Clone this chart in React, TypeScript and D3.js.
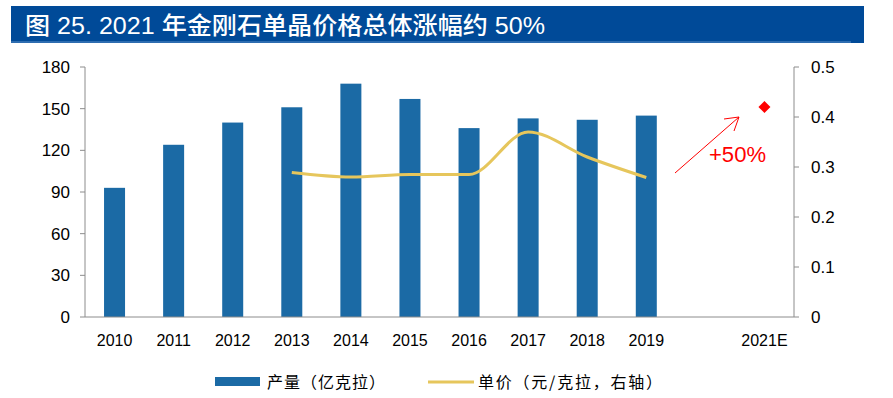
import React from "react";
import * as d3 from "d3";

const categories = ["2010", "2011", "2012", "2013", "2014", "2015", "2016", "2017", "2018", "2019", "2020", "2021E"];
const xLabels = ["2010", "2011", "2012", "2013", "2014", "2015", "2016", "2017", "2018", "2019", "", "2021E"];
const outputYears = ["2010", "2011", "2012", "2013", "2014", "2015", "2016", "2017", "2018", "2019"];
const outputValues = [93, 124, 140, 151, 168, 157, 136, 143, 142, 145];
const priceYears = ["2013", "2014", "2015", "2016", "2017", "2018", "2019"];
const priceValues = [0.289, 0.28, 0.285, 0.285, 0.37, 0.32, 0.279];
const forecastYear = "2021E";
const forecastPrice = 0.42;
const leftTicks = [0, 30, 60, 90, 120, 150, 180];
const rightTicks = [0, 0.1, 0.2, 0.3, 0.4, 0.5];

const W = 893, H = 398;
const plot = { left: 85, right: 794, top: 67, bottom: 317 };

export default function App() {
  const x = d3.scaleBand().domain(categories).range([plot.left, plot.right]).paddingInner(0.64).paddingOuter(0.32);
  const yL = d3.scaleLinear().domain([0, 180]).range([plot.bottom, plot.top]);
  const yR = d3.scaleLinear().domain([0, 0.5]).range([plot.bottom, plot.top]);
  const cx = (c: string) => (x(c) as number) + x.bandwidth() / 2;
  const line = d3.line<number>()
    .x((_, i) => cx(priceYears[i]))
    .y((d) => yR(d))
    .curve(d3.curveMonotoneX);
  const bw = 21;
  const fx = cx(forecastYear);
  const fy = yR(forecastPrice);
  const axisColor = "#8c8c8c";
  const numFont = "'Liberation Sans', Arial, sans-serif";
  const cjk = "'Noto Sans CJK SC', sans-serif";
  return (
    <svg width={W} height={H} style={{ position: "absolute", left: 0, top: 0 }}>
      <rect x={0} y={0} width={W} height={H} fill="#fff" />
      <rect x={11} y={6} width={853} height={37} fill="#004a98" />
      <line x1={11} x2={851} y1={42} y2={42} stroke="#5d8fc8" strokeWidth={1.2} />
      <text x={25} y={34} fill="#fff" fontSize={24} fontWeight={500} fontFamily={`'Liberation Sans', ${cjk}`}
        textLength={520} lengthAdjust="spacingAndGlyphs">
        图 25. 2021 年金刚石单晶价格总体涨幅约 50%
      </text>

      {outputValues.map((v, i) => (
        <rect key={i} x={cx(outputYears[i]) - bw / 2} y={yL(v)} width={bw} height={plot.bottom - yL(v)} fill="#1b6aa5" />
      ))}

      <path d={line(priceValues) || ""} fill="none" stroke="#e6c65c" strokeWidth={3} />

      {/* axes */}
      <line x1={plot.left} x2={plot.left} y1={plot.top} y2={plot.bottom} stroke={axisColor} />
      <line x1={plot.right} x2={plot.right} y1={plot.top} y2={plot.bottom} stroke={axisColor} />
      <line x1={plot.left} x2={plot.right} y1={plot.bottom} y2={plot.bottom} stroke={axisColor} />
      {leftTicks.map((t) => (
        <g key={"l" + t}>
          <line x1={plot.left - 5} x2={plot.left} y1={yL(t)} y2={yL(t)} stroke={axisColor} />
          <text x={plot.left - 15} y={yL(t) + 6} textAnchor="end" fontSize={17} fontFamily={numFont} fill="#000">{t}</text>
        </g>
      ))}
      {rightTicks.map((t) => (
        <g key={"r" + t}>
          <line x1={plot.right} x2={plot.right + 5} y1={yR(t)} y2={yR(t)} stroke={axisColor} />
          <text x={plot.right + 17} y={yR(t) + 6} textAnchor="start" fontSize={17} fontFamily={numFont} fill="#000">{t === 0 ? "0" : String(t)}</text>
        </g>
      ))}
      {categories.map((c, i) => (
        <text key={c} x={cx(c)} y={346} textAnchor="middle" fontSize={16} fontFamily={numFont} fill="#000">{xLabels[i]}</text>
      ))}

      {/* forecast */}
      <path d={`M${fx},${fy - 6}L${fx + 6},${fy}L${fx},${fy + 6}L${fx - 6},${fy}Z`} fill="#ff0000" />
      <line x1={675} y1={173} x2={739} y2={117} stroke="#ff0000" strokeWidth={1} />
      <path d="M724,119 L739,117 L734,131" fill="none" stroke="#ff0000" strokeWidth={1} />
      <text x={709} y={162} fill="#ff0000" fontSize={21.5} fontFamily={numFont} textLength={57} lengthAdjust="spacingAndGlyphs">+50%</text>

      {/* legend */}
      <rect x={215} y={377} width={45} height={9} fill="#1b6aa5" />
      <text x={267} y={388} fontSize={16} fontFamily={cjk} fill="#000" textLength={118}>产量（亿克拉）</text>
      <line x1={428} x2={474} y1={382} y2={382} stroke="#e6c65c" strokeWidth={3} />
      <text x={478} y={388} fontSize={16} fontFamily={cjk} fill="#000" textLength={184}>单价（元/克拉，右轴）</text>
    </svg>
  );
}
